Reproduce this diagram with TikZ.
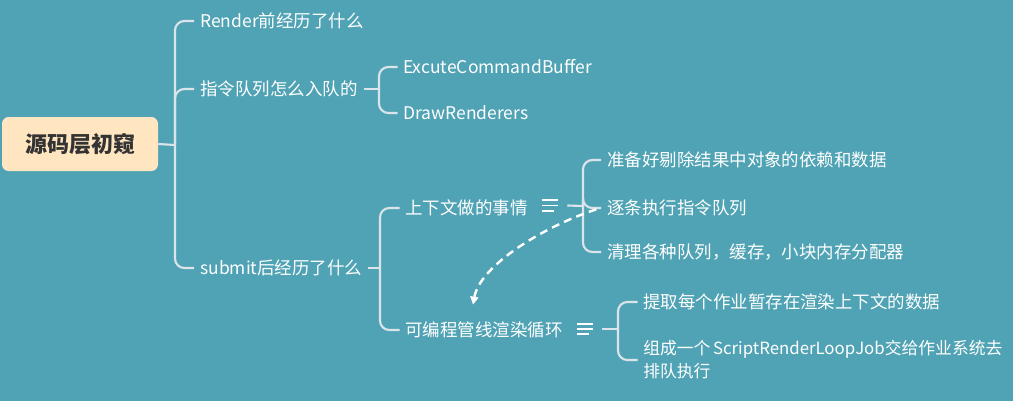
\documentclass[tikz,border=0pt]{standalone}
\usepackage{fontspec}
\setmainfont{Noto Sans CJK SC}
\usetikzlibrary{arrows.meta}
\definecolor{bg}{RGB}{80,163,180}
\definecolor{ln}{RGB}{218,228,234}
\definecolor{rootfill}{RGB}{255,229,192}
\definecolor{roottext}{RGB}{51,51,51}
\begin{document}
\begin{tikzpicture}[x=0.75pt,y=-0.75pt,
  conn/.style={draw=ln, line width=1.6pt},
  branch/.style={conn, rounded corners=7pt},
  txt/.style={anchor=west, inner sep=0pt, text=white, font=\fontsize{13.1pt}{17.3pt}\selectfont},
  rootbox/.style={fill=rootfill, rounded corners=5pt, minimum width=117pt, minimum height=40.5pt, inner sep=0pt, text=roottext, font=\fontsize{16.5pt}{20pt}\selectfont\bfseries},
  noteicon/.style={inner sep=0pt, minimum width=11.5pt, minimum height=7.5pt},
  iconln/.style={draw=white, line width=1.2pt},
  flow/.style={draw=white, line width=1.8pt, dash pattern=on 6pt off 4pt, -{Triangle[length=6pt,width=6pt]}}
]
\fill[bg] (0,0) rectangle (1013,401);
\useasboundingbox (0,0) rectangle (1013,401);

% root
\node[rootbox] (root) at (80,144) {源码层初窥};

% level 1
\node[txt] (a) at (200,21) {Render前经历了什么};
\node[txt] (b) at (200,89) {指令队列怎么入队的};
\node[txt] (c) at (200,268) {submit后经历了什么};
\coordinate (j0) at (175,145);
\draw[conn] (root.east) -- (j0);
\foreach \n in {a,b,c} \draw[branch] (j0) |- ([xshift=-4.5pt]\n.west);

% b children
\node[txt] (b1) at (403,67) {ExcuteCommandBuffer};
\node[txt] (b2) at (403,113) {DrawRenderers};
\coordinate (jb) at (379,89);
\draw[conn] ([xshift=4.5pt]b.east) -- (jb);
\foreach \n in {b1,b2} \draw[branch] (jb) |- ([xshift=-4pt]\n.west);

% c children
\node[txt] (c1) at (405,208) {上下文做的事情};
\node[txt] (c2) at (405,330) {可编程管线渲染循环};
\coordinate (jc) at (380,268);
\draw[conn] ([xshift=4.5pt]c.east) -- (jc);
\foreach \n in {c1,c2} \draw[branch] (jc) |- ([xshift=-4pt]\n.west);

% note icons
\node[noteicon] (i1) at (550,205.5) {};
\draw[iconln] (i1.north west) -- (i1.north east);
\draw[iconln] (i1.west) -- (i1.east);
\draw[iconln] (i1.south west) -- ([xshift=-3pt]i1.south east);
\node[noteicon] (i2) at (585,329) {};
\draw[iconln] (i2.north west) -- (i2.north east);
\draw[iconln] (i2.west) -- (i2.east);
\draw[iconln] (i2.south west) -- ([xshift=-3pt]i2.south east);

% c1 children
\node[txt] (d1) at (607,160) {准备好剔除结果中对象的依赖和数据};
\node[txt] (d2) at (607,208) {逐条执行指令队列};
\node[txt] (d3) at (607,252) {清理各种队列，缓存，小块内存分配器};
\coordinate (jd) at (583,206);
\draw[conn] ([xshift=7pt]i1.east) -- (jd);
\foreach \n in {d1,d2,d3} \draw[branch] (jd) |- ([xshift=-4.5pt]\n.west);

% c2 children
\node[txt] (e1) at (643,302) {提取每个作业暂存在渲染上下文的数据};
\node[txt, align=left, font=\fontsize{12.6pt}{17.3pt}\selectfont] (e2) at (643,360) {组成一个\hspace{2pt}ScriptRenderLoopJob交给作业系统去\\排队执行};
\coordinate (je) at (618,329);
\draw[conn] ([xshift=7pt]i2.east) -- (je);
\foreach \n in {e1,e2} \draw[branch] (je) |- ([xshift=-4pt]\n.west);

% dashed relation
\coordinate (ds) at ([xshift=-8pt,yshift=-1pt]d2.west);
\coordinate (de) at ([xshift=51pt,yshift=19pt]c2.west);
\draw[flow] (ds) .. controls (545,226) and (480,265) .. (de);
\end{tikzpicture}
\end{document}
